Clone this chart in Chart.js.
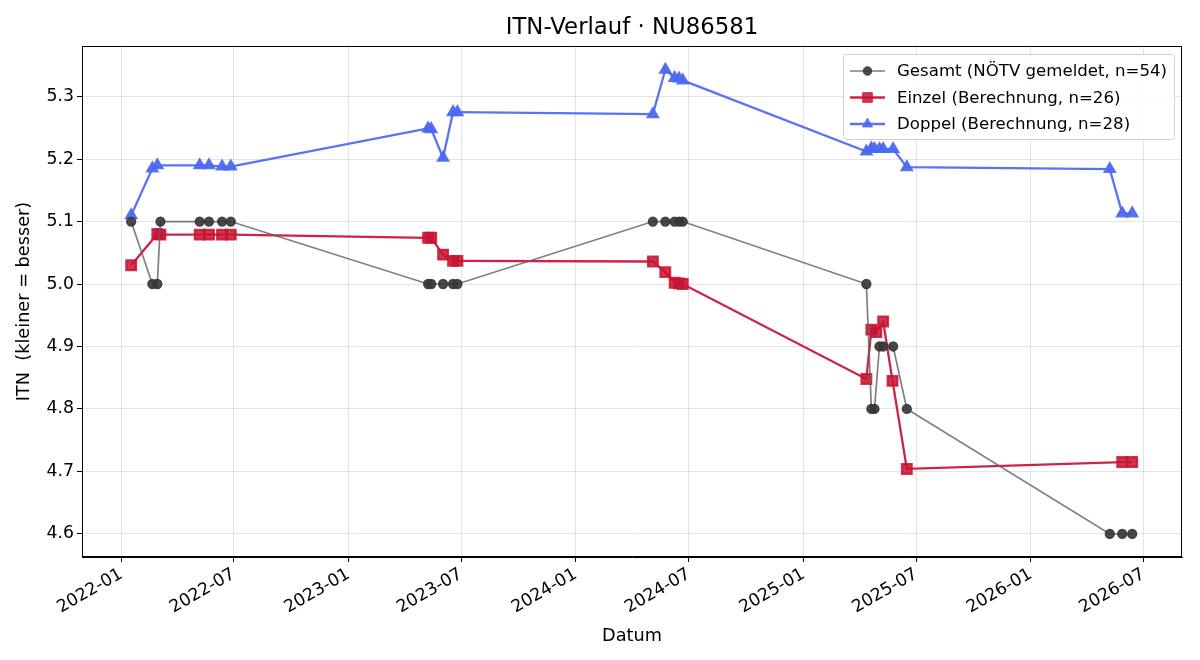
<!DOCTYPE html>
<html>
<head>
<meta charset="utf-8">
<script src="https://cdn.jsdelivr.net/npm/chart.js@4.4.1/dist/chart.umd.min.js"></script>
<style>
  html, body { margin: 0; padding: 0; background: #fff; }
  #wrap { width: 1200px; height: 660px; position: relative; }
</style>
</head>
<body>
<div id="wrap"><canvas id="itnChart"></canvas></div>
<script>
// --- data ---
const gesamtDates = ['2022-01-17', '2022-02-20', '2022-02-28', '2022-03-05', '2022-05-07', '2022-05-22', '2022-06-12', '2022-06-26',
  '2023-05-09', '2023-05-14', '2023-06-02', '2023-06-18', '2023-06-25',
  '2024-05-04', '2024-05-24', '2024-06-08', '2024-06-15', '2024-06-21',
  '2025-04-12', '2025-04-20', '2025-04-25', '2025-05-03', '2025-05-09', '2025-05-25', '2025-06-16',
  '2026-05-08', '2026-05-28', '2026-06-13'];
const gesamtValues = [5.1, 5.0, 5.0, 5.1, 5.1, 5.1, 5.1, 5.1,
  5.0, 5.0, 5.0, 5.0, 5.0,
  5.1, 5.1, 5.1, 5.1, 5.1,
  5.0, 4.8, 4.8, 4.9, 4.9, 4.9, 4.8,
  4.6, 4.6, 4.6];

const einzelDates = ['2022-01-17', '2022-02-28', '2022-03-05', '2022-05-07', '2022-05-22', '2022-06-12', '2022-06-26',
  '2023-05-09', '2023-05-14', '2023-06-02', '2023-06-18', '2023-06-25',
  '2024-05-04', '2024-05-24', '2024-06-08', '2024-06-15', '2024-06-21',
  '2025-04-12', '2025-04-20', '2025-04-28', '2025-05-09', '2025-05-24', '2025-06-16',
  '2026-05-28', '2026-06-13'];
const einzelValues = [5.03, 5.08, 5.079, 5.079, 5.079, 5.079, 5.079,
  5.074, 5.074, 5.047, 5.037, 5.037,
  5.036, 5.019, 5.002, 5.001, 5.0,
  4.848, 4.927, 4.923, 4.94, 4.845, 4.704,
  4.715, 4.715];

const doppelDates = ['2022-01-17', '2022-02-20', '2022-02-28', '2022-05-07', '2022-05-22', '2022-06-12', '2022-06-26',
  '2023-05-09', '2023-05-14', '2023-06-02', '2023-06-18', '2023-06-25',
  '2024-05-04', '2024-05-24', '2024-06-08', '2024-06-15', '2024-06-21',
  '2025-04-12', '2025-04-20', '2025-04-25', '2025-05-03', '2025-05-09', '2025-05-25', '2025-06-16',
  '2026-05-08', '2026-05-28', '2026-06-13'];
const doppelValues = [5.11, 5.185, 5.19, 5.19, 5.19, 5.188, 5.188,
  5.249, 5.248, 5.202, 5.275, 5.275,
  5.272, 5.343, 5.33, 5.329, 5.326,
  5.212, 5.217, 5.216, 5.216, 5.216, 5.216, 5.187,
  5.184, 5.113, 5.113];

const xTickLabels = ['2022-01', '2022-07', '2023-01', '2023-07', '2024-01', '2024-07', '2025-01', '2025-07', '2026-01', '2026-07'];
const yTickValues = [4.6, 4.7, 4.8, 4.9, 5.0, 5.1, 5.2, 5.3];
const seriesLabels = ['Gesamt (NÖTV gemeldet, n=54)', 'Einzel (Berechnung, n=26)', 'Doppel (Berechnung, n=28)'];
const chartTitle = 'ITN-Verlauf · NU86581';

// days since 2022-01-01
const EPOCH = Date.UTC(2022, 0, 1);
function toDay(s) {
  return (Date.UTC(+s.slice(0, 4), +s.slice(5, 7) - 1, +s.slice(8, 10)) - EPOCH) / 86400000;
}
function toPoints(dates, values) {
  return dates.map((d, i) => ({ x: toDay(d), y: values[i] }));
}
const xTickDays = xTickLabels.map((m) => toDay(m + '-01'));

const FONT = "'DejaVu Sans', sans-serif";

// title centred over the plot area, frame, and legend box in the upper right
const framePlugin = {
  id: 'frame',
  afterDatasetsDraw(chart) {
    const { ctx, chartArea: a } = chart;
    ctx.save();
    ctx.strokeStyle = '#000';
    ctx.lineWidth = 1;
    ctx.strokeRect(a.left + 0.5, a.top + 0.5, a.right - a.left - 1, a.bottom - a.top - 1);

    ctx.fillStyle = '#000';
    ctx.font = '22.8px ' + FONT;
    ctx.textAlign = 'center';
    ctx.textBaseline = 'middle';
    ctx.fillText(chartTitle, (a.left + a.right) / 2, 28);

    // legend
    const bx = 843, by = 54, bw = 331, bh = 85;
    ctx.fillStyle = 'rgba(255,255,255,0.85)';
    ctx.strokeStyle = '#d0d0d0';
    ctx.beginPath();
    ctx.roundRect(bx + 0.5, by + 0.5, bw, bh, 3);
    ctx.fill();
    ctx.stroke();
    ctx.font = '16.6px ' + FONT;
    ctx.textAlign = 'left';
    chart.data.datasets.forEach((ds, i) => {
      const y = by + 17 + i * 26.5;
      ctx.strokeStyle = ds.borderColor;
      ctx.lineWidth = ds.borderWidth;
      ctx.beginPath();
      ctx.moveTo(850, y);
      ctx.lineTo(885, y);
      ctx.stroke();
      ctx.fillStyle = ds.pointBackgroundColor;
      ctx.strokeStyle = ds.pointBorderColor;
      ctx.lineWidth = 1;
      Chart.helpers.drawPoint(ctx, { pointStyle: ds.pointStyle, radius: ds.pointRadius, borderWidth: 1 }, 867.5, y);
      ctx.fillStyle = '#000';
      ctx.fillText(seriesLabels[i], 897, y + 1);
    });
    ctx.restore();
  },
};

new Chart(document.getElementById('itnChart'), {
  type: 'line',
  data: {
    datasets: [
      {
        label: seriesLabels[0],
        data: toPoints(gesamtDates, gesamtValues),
        borderColor: 'rgba(95,95,95,0.8)',
        borderWidth: 1.7,
        pointStyle: 'circle',
        pointRadius: 4.3,
        pointBackgroundColor: 'rgba(55,55,55,0.9)',
        pointBorderColor: 'rgba(55,55,55,0.9)',
        tension: 0,
      },
      {
        label: seriesLabels[1],
        data: toPoints(einzelDates, einzelValues),
        borderColor: '#cc2445',
        borderWidth: 2.3,
        pointStyle: 'rect',
        pointRadius: 6.8,
        pointBackgroundColor: 'rgba(200,20,50,0.85)',
        pointBorderColor: 'rgba(200,20,50,0.85)',
        tension: 0,
      },
      {
        label: seriesLabels[2],
        data: toPoints(doppelDates, doppelValues),
        borderColor: '#5874f2',
        borderWidth: 2.3,
        pointStyle: 'triangle',
        pointRadius: 5.8,
        pointBackgroundColor: 'rgba(75,105,240,0.9)',
        pointBorderColor: 'rgba(75,105,240,0.9)',
        tension: 0,
      },
    ],
  },
  options: {
    responsive: true,
    maintainAspectRatio: false,
    animation: false,
    events: [],
    layout: { padding: { left: 0, right: 18, top: 46, bottom: 0 } },
    plugins: {
      legend: { display: false },
      tooltip: { enabled: false },
      title: { display: false },
    },
    scales: {
      x: {
        type: 'linear',
        min: -63,
        max: 1704,
        afterBuildTicks(scale) {
          scale.ticks = xTickDays.map((v) => ({ value: v }));
        },
        afterFit(scale) {
          scale.height = 103;
        },
        ticks: {
          autoSkip: false,
          minRotation: 30,
          maxRotation: 30,
          color: '#000',
          padding: 2,
          font: { family: FONT, size: 17.3 },
          callback: (v) => xTickLabels[xTickDays.indexOf(v)],
        },
        grid: { color: 'rgba(0,0,0,0.1)', tickColor: '#000', tickLength: 5 },
        border: { color: '#000' },
        title: {
          display: true,
          text: 'Datum',
          color: '#000',
          font: { family: FONT, size: 17.7 },
          padding: { top: 0, bottom: 13 },
        },
      },
      y: {
        min: 4.563,
        max: 5.381,
        afterBuildTicks(scale) {
          scale.ticks = yTickValues.map((v) => ({ value: v }));
        },
        afterFit(scale) {
          scale.width = 82;
        },
        ticks: {
          color: '#000',
          padding: 3,
          font: { family: FONT, size: 17.3 },
          callback: (v) => v.toFixed(1),
        },
        grid: { color: 'rgba(0,0,0,0.1)', tickColor: '#000', tickLength: 5 },
        border: { color: '#000' },
        title: {
          display: true,
          text: 'ITN  (kleiner = besser)',
          color: '#000',
          font: { family: FONT, size: 17.7 },
          padding: { top: 14, bottom: 0 },
        },
      },
    },
  },
  plugins: [framePlugin],
});
</script>
</body>
</html>
